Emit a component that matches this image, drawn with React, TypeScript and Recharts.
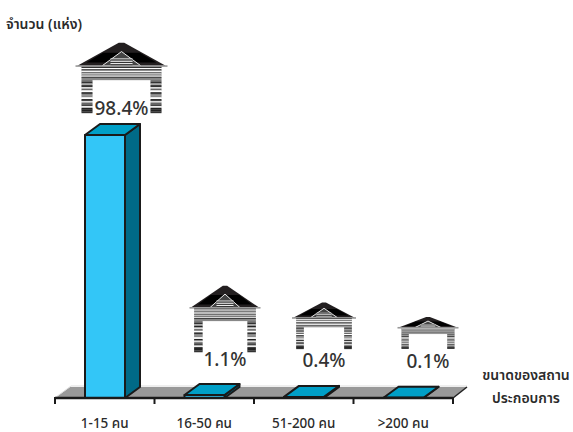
import React from "react";
import { BarChart, Bar, XAxis, YAxis, LabelList, usePlotArea } from "recharts";

const sizeLabels = ["1-15 คน", "16-50 คน", "51-200 คน", ">200 คน"];
const shareValues = [98.4, 1.1, 0.4, 0.1];
const rows = sizeLabels.map((name, i) => ({ name, share: shareValues[i] }));

const FONT = "'Noto Sans', 'Noto Sans Thai', 'DejaVu Sans', sans-serif";
const TEXT = "#2b2b2b";
const BAND = 99.5;
const DX = 15;
const DY = 11;

// Pictogram placement relative to each bar's top
const houseLayout = [
  { w: 92, h: 71, dx: 16.5, gap: 22, labelGap: 20 },
  { w: 71, h: 67, dx: 20.5, gap: 43, labelGap: 29 },
  { w: 64, h: 47, dx: 20, gap: 48, labelGap: 30 },
  { w: 61, h: 32, dx: 24.5, gap: 49, labelGap: 30 },
];

const lintelStripes = ["#222", "#fff", "#555", "#888", "#fff", "#333", "#ddd", "#555", "#fff", "#333", "#888", "#888"];
const pillarStripes = ["#777", "#333", "#aaa", "#222", "#ddd", "#666", "#fff", "#333", "#888", "#888", "#fff", "#222", "#ddd", "#666", "#444", "#eee", "#222", "#222", "#333"];

function Stripes({ x, y, w, h, colors }: any) {
  const s = h / colors.length;
  return (
    <g>
      {colors.map((c: string, i: number) => (
        <rect key={i} x={x} y={y + i * s} width={w} height={s + 0.2} fill={c} />
      ))}
    </g>
  );
}

function House({ x, y, w, h }: any) {
  const eave = y + h * 0.335;
  const cx = x + w / 2;
  const peakY = y + h * 0.135;
  const roofTip = `${x + w * 0.02},${eave} ${cx - w * 0.03},${y + h * 0.01} ${cx + w * 0.03},${y + h * 0.01} ${x + w * 0.98},${eave}`;
  const top = y + h * 0.35;
  const lintelH = h * 0.185;
  const pillarTop = top + lintelH;
  const pillarH = y + h - pillarTop;
  const px = w * 0.065;
  const pw = w * 0.12;
  return (
    <g>
      <polygon points={roofTip} fill="#231f20" />
      <polygon points={`${x + w * 0.12},${y + h * 0.29} ${x + w * 0.88},${y + h * 0.29} ${cx + w * 0.2},${y + h * 0.15} ${cx - w * 0.2},${y + h * 0.15}`} fill="#000" />
      <polygon points={`${x + w * 0.29},${eave} ${cx},${peakY} ${x + w * 0.71},${eave}`} fill="#444" stroke="#e8e8e8" strokeWidth={1} />
      <Stripes x={cx - w * 0.12} y={y + h * 0.23} w={w * 0.24} h={h * 0.1} colors={["#ddd", "#333", "#eee", "#333", "#eee", "#333"]} />
      <rect x={x} y={eave - 0.5} width={w} height={1.6} fill="#999" />
      <Stripes x={x + px} y={top} w={w - 2 * px} h={lintelH} colors={lintelStripes} />
      <Stripes x={x + px} y={pillarTop} w={pw} h={pillarH} colors={pillarStripes} />
      <Stripes x={x + w - px - pw} y={pillarTop} w={pw} h={pillarH} colors={pillarStripes} />
    </g>
  );
}

function Bar3D({ x, y, width, height }: any) {
  const stroke = "#1a1a1a";
  return (
    <g stroke={stroke} strokeWidth={2} strokeLinejoin="round">
      <polygon
        points={`${x + width},${y} ${x + width + DX},${y - DY} ${x + width + DX},${y + height - DY} ${x + width},${y + height}`}
        fill="#006a87"
      />
      <polygon
        points={`${x},${y} ${x + DX},${y - DY} ${x + width + DX},${y - DY} ${x + width},${y}`}
        fill="#009fc7"
      />
      <rect x={x} y={y} width={width} height={height} fill="#33c6f7" />
    </g>
  );
}

function HouseLabel({ x, y, width, value, index }: any) {
  const l = houseLayout[index];
  const cx = x + width / 2 + l.dx;
  return (
    <g>
      <House x={cx - l.w / 2} y={y - l.gap - l.h} w={l.w} h={l.h} />
      <text x={cx} y={y - l.labelGap} textAnchor="middle" fontFamily={FONT} fontSize={19} fontWeight={500} fill="#333">
        {value}%
      </text>
    </g>
  );
}

function Floor() {
  const p = usePlotArea();
  if (!p) return null;
  const b = p.y + p.height;
  const l = p.x;
  const r = p.x + p.width;
  return (
    <g>
      <polygon points={`${l},${b} ${l + 15},${b - 11} ${r + 14},${b - 11} ${r},${b}`} fill="#999" />
      <polyline points={`${l + 1},${b - 1} ${l + 16},${b - 12} ${r + 14},${b - 12}`} fill="none" stroke="#ddd" strokeWidth={1} />
      <line x1={r} y1={b} x2={r + 14} y2={b - 11} stroke="#222" strokeWidth={1.5} />
    </g>
  );
}

function SizeTick({ x, y, payload, index }: any) {
  const last = index === sizeLabels.length - 1;
  const left = x - BAND / 2;
  const right = x + BAND / 2;
  return (
    <g>
      <line x1={left} y1={y - 9} x2={left} y2={y - 2} stroke="#1a1a1a" strokeWidth={2} />
      {last && <line x1={right} y1={y - 9} x2={right} y2={y - 2} stroke="#1a1a1a" strokeWidth={2} />}
      <text x={x} y={y + 22} textAnchor="middle" fontFamily={FONT} fontSize={13.5} fontWeight={500} fill={TEXT}>
        {payload.value}
      </text>
    </g>
  );
}

function Titles() {
  const t = { fontFamily: FONT, fontSize: 14, fontWeight: 600, fill: TEXT };
  return (
    <g>
      <text x={6} y={29} {...t}>จำนวน (แห่ง)</text>
      <text x={526} y={380} textAnchor="middle" {...t}>ขนาดของสถาน</text>
      <text x={526} y={403} textAnchor="middle" {...t}>ประกอบการ</text>
    </g>
  );
}

export default function App() {
  return (
    <div style={{ position: "absolute", left: 0, top: 0, width: 573, height: 432, background: "#fff" }}>
      <BarChart
        width={573}
        height={432}
        data={rows}
        barSize={40}
        margin={{ top: 130.7, right: 120, bottom: 0, left: 55 }}
      >
        <Floor />
        <YAxis hide domain={[0, 100]} />
        <XAxis
          dataKey="name"
          height={34}
          axisLine={{ stroke: "#1a1a1a", strokeWidth: 2.5 }}
          tickLine={false}
          interval={0}
          tick={<SizeTick />}
        />
        <Bar dataKey="share" shape={<Bar3D />} isAnimationActive={false}>
          <LabelList dataKey="share" content={<HouseLabel />} />
        </Bar>
        <Titles />
      </BarChart>
    </div>
  );
}
